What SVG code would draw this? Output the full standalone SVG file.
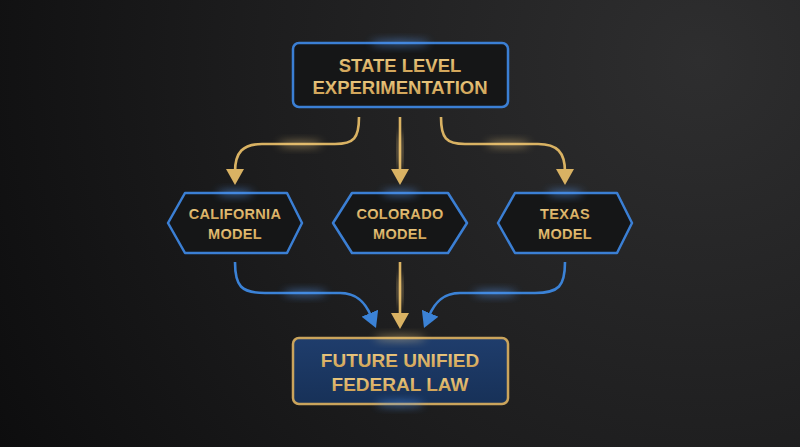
<svg xmlns="http://www.w3.org/2000/svg" width="800" height="447" viewBox="0 0 800 447">
<defs>
<radialGradient id="bg" cx="700" cy="60" r="800" gradientUnits="userSpaceOnUse">
<stop offset="0" stop-color="#2e2e2f"/>
<stop offset="0.55" stop-color="#1d1d1e"/>
<stop offset="1" stop-color="#0d0d0e"/>
</radialGradient>
<linearGradient id="goldTxt" x1="0" y1="0" x2="0" y2="1">
<stop offset="0" stop-color="#f0cf86"/>
<stop offset="1" stop-color="#c99a4e"/>
</linearGradient>
<linearGradient id="fedFill" x1="0" y1="0" x2="0" y2="1">
<stop offset="0" stop-color="#1f3d6c"/>
<stop offset="1" stop-color="#173158"/>
</linearGradient>
<filter id="blur" x="-50%" y="-200%" width="200%" height="500%"><feGaussianBlur stdDeviation="4"/></filter>
<marker id="ag" viewBox="0 0 16 18" markerWidth="16" markerHeight="18" refX="3" refY="9" orient="auto" markerUnits="userSpaceOnUse"><path d="M0,0 L16,9 L0,18 z" fill="#d9b263"/></marker>
<marker id="ab" viewBox="0 0 16 18" markerWidth="16" markerHeight="18" refX="3" refY="9" orient="auto" markerUnits="userSpaceOnUse"><path d="M0,0 L16,9 L0,18 z" fill="#3b82d6"/></marker>
</defs>
<style>
.node{fill:#151617;stroke:#3b7fd4;stroke-width:2.5;stroke-linejoin:round}
.fed{fill:url(#fedFill);stroke:#caa45c;stroke-width:2.5}
.lbl{font-family:"Liberation Sans",Arial,sans-serif;font-weight:700;fill:url(#goldTxt);text-anchor:middle}
.big{font-size:18.5px}
.fb{font-size:19px}
.sm{font-size:14.5px;letter-spacing:0.3px}
.gold{fill:none;stroke:#d9b263;stroke-width:2.6;marker-end:url(#ag)}
.blue{fill:none;stroke:#3b82d6;stroke-width:2.6;marker-end:url(#ab)}
.gb{fill:#5aa0ff;filter:url(#blur);opacity:0.8}
.gg{fill:#ffd98a;filter:url(#blur);opacity:0.7}
</style>
<rect width="800" height="447" fill="url(#bg)"/>

<g id="connectors">
<path class="gold" d="M359,117 C359,138 354,144 335,144 H262 C243,144 235,152 235,172"/>
<path class="gold" d="M400,117 V172"/>
<path class="gold" d="M441,117 C441,138 446,144 465,144 H538 C557,144 565,152 565,172"/>
<path class="blue" d="M235,262 C235,286 241,293 265,293 H340 C358,293 366,304 371,316"/>
<path class="gold" d="M400,262 V316"/>
<path class="blue" d="M565,262 C565,286 559,293 535,293 H460 C442,293 434,304 429,316"/>
<ellipse class="gg" cx="300" cy="144" rx="22" ry="2"/>
<ellipse class="gg" cx="508" cy="144" rx="22" ry="2"/>
<ellipse class="gg" cx="400" cy="150" rx="2" ry="18"/>
<ellipse class="gb" cx="305" cy="293" rx="22" ry="2"/>
<ellipse class="gb" cx="495" cy="293" rx="22" ry="2"/>
<ellipse class="gg" cx="400" cy="290" rx="2" ry="16"/>
</g>

<g id="state">
<rect class="node" x="293" y="43" width="215" height="64" rx="6"/>
<ellipse class="gb" cx="400" cy="43" rx="30" ry="2"/>
<text class="lbl big" x="400" y="72">STATE LEVEL</text>
<text class="lbl big" x="400" y="94">EXPERIMENTATION</text>
</g>

<g id="california">
<polygon class="node" points="168,223 185,193 287,193 302,223 287,253 185,253"/>
<ellipse class="gb" cx="235" cy="193" rx="18" ry="2"/>
<text class="lbl sm" x="235" y="219">CALIFORNIA</text>
<text class="lbl sm" x="235" y="239">MODEL</text>
</g>

<g id="colorado">
<polygon class="node" points="333,223 352,193 448,193 467,223 448,253 352,253"/>
<ellipse class="gb" cx="400" cy="193" rx="18" ry="2"/>
<text class="lbl sm" x="400" y="219">COLORADO</text>
<text class="lbl sm" x="400" y="239">MODEL</text>
</g>

<g id="texas">
<polygon class="node" points="498,223 515,193 617,193 632,223 617,253 515,253"/>
<ellipse class="gb" cx="565" cy="193" rx="18" ry="2"/>
<text class="lbl sm" x="565" y="219">TEXAS</text>
<text class="lbl sm" x="565" y="239">MODEL</text>
</g>

<g id="federal">
<rect class="fed" x="293" y="338" width="215" height="66" rx="6"/>
<ellipse class="gg" cx="400" cy="338" rx="26" ry="2"/>
<ellipse class="gb" cx="400" cy="404" rx="24" ry="2"/>
<text class="lbl fb" x="400" y="367">FUTURE UNIFIED</text>
<text class="lbl fb" x="400" y="391">FEDERAL LAW</text>
</g>
</svg>
